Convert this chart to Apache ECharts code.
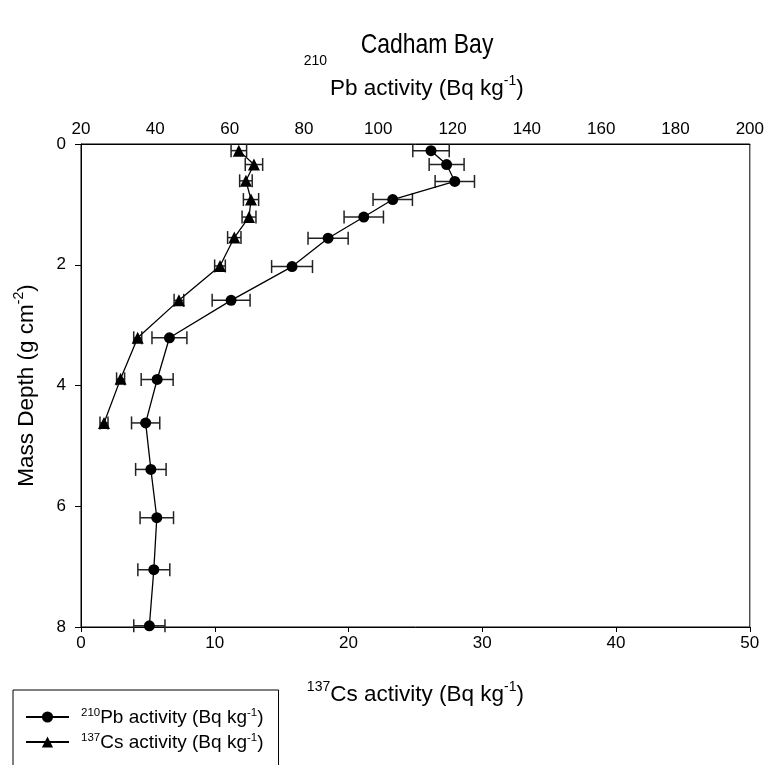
<!DOCTYPE html>
<html>
<head>
<meta charset="utf-8">
<script src="https://cdn.jsdelivr.net/npm/echarts@6/dist/echarts.min.js"></script>
<style>
html,body{margin:0;padding:0;background:#fff;}
#c{width:767px;height:765px;}
</style>
</head>
<body>
<div id="c"></div>
<script>
// Mass depth (g cm-2) of each sample
const pbDepth = [0.11,0.34,0.62,0.92,1.21,1.56,2.03,2.59,3.21,3.90,4.62,5.39,6.19,7.05,7.98];
// 210Pb activity (Bq kg-1) and its error
const pbValues = [114.2,118.4,120.6,103.9,96.1,86.5,76.8,60.4,43.8,40.5,37.4,38.8,40.4,39.6,38.4];
const pbErr    = [4.9,4.7,5.3,5.3,5.3,5.4,5.5,5.1,4.7,4.3,3.8,4.1,4.5,4.3,4.2];
// 137Cs activity (Bq kg-1) and its error
const csDepth  = [0.11,0.34,0.61,0.92,1.21,1.55,2.02,2.59,3.21,3.89,4.62];
const csValues = [11.8,12.93,12.33,12.71,12.56,11.46,10.39,7.32,4.24,2.96,1.72];
const csErr    = [0.58,0.65,0.47,0.57,0.52,0.50,0.40,0.36,0.30,0.30,0.30];
// Axis ticks
const csTicks = {min:0, max:50, interval:10};
const pbTicks = {min:20, max:200, interval:20};
const depthTicks = {min:0, max:8, interval:2};
const chartTitle = 'Cadham Bay';

const FONT = '"Liberation Sans", Arial, sans-serif';
const pbData = pbValues.map((v,i)=>[v, pbDepth[i], pbErr[i]]);
const csData = csValues.map((v,i)=>[v, csDepth[i], csErr[i]]);

function errRender(params, api){
  const x = api.value(0), y = api.value(1), e = api.value(2);
  const p1 = api.coord([x - e, y]);
  const p2 = api.coord([x + e, y]);
  const cap = 6.5;
  const st = {stroke:'#222', lineWidth:1.5};
  return {type:'group', children:[
    {type:'line', shape:{x1:p1[0], y1:p1[1], x2:p2[0], y2:p2[1]}, style:st},
    {type:'line', shape:{x1:p1[0], y1:p1[1]-cap, x2:p1[0], y2:p1[1]+cap}, style:st},
    {type:'line', shape:{x1:p2[0], y1:p2[1]-cap, x2:p2[0], y2:p2[1]+cap}, style:st}
  ]};
}

const TF = 22.5; // axis title size
const TS = 14;   // superscript size
const chart = echarts.init(document.getElementById('c'), null, {renderer:'canvas'});
const axisLine = {show:true, onZero:false, lineStyle:{color:'#000', width:1}};
chart.setOption({
  backgroundColor:'#fff',
  animation:false,
  graphic:[{
    type:'text', x:427, y:45, scaleX:0.82, silent:true,
    style:{text:chartTitle, fontFamily:FONT, fontSize:28, fill:'#000', textAlign:'center', textVerticalAlign:'middle'}
  }],
  grid:{left:81, right:17, top:144, bottom:138, show:true, borderColor:'#000', borderWidth:1, backgroundColor:'transparent'},
  legend:{
    orient:'vertical', left:13, top:690, height:100,
    padding:[17, 15, 30, 12],
    itemGap:5, itemWidth:43, itemHeight:14,
    borderColor:'#000', borderWidth:1,
    data:['210Pb','137Cs'],
    formatter:function(name){
      return name==='210Pb'
        ? '{s|210}{m|Pb activity (Bq kg}{s|-1}{m|)}'
        : '{s|137}{m|Cs activity (Bq kg}{s|-1}{m|)}';
    },
    textStyle:{
      fontFamily:FONT, color:'#000', padding:[0,0,0,7],
      rich:{
        m:{fontFamily:FONT, fontSize:19, color:'#000', lineHeight:20, verticalAlign:'bottom'},
        s:{fontFamily:FONT, fontSize:11.5, color:'#000', lineHeight:20, verticalAlign:'top'}
      }
    }
  },
  xAxis:[
    {
      type:'value', position:'bottom', min:csTicks.min, max:csTicks.max, interval:csTicks.interval,
      axisLine:axisLine, splitLine:{show:false},
      axisTick:{show:true, length:5, lineStyle:{color:'#000'}},
      axisLabel:{fontFamily:FONT, fontSize:17, color:'#000', margin:8},
      name:'{s|137}{m|Cs activity (Bq kg}{s|-1}{m|)}',
      nameLocation:'middle', nameGap:53,
      nameTextStyle:{
        rich:{
          m:{fontFamily:FONT, fontSize:TF, color:'#000', lineHeight:26, verticalAlign:'bottom'},
          s:{fontFamily:FONT, fontSize:TS, color:'#000', lineHeight:26, verticalAlign:'top'}
        }
      }
    },
    {
      type:'value', position:'top', min:pbTicks.min, max:pbTicks.max, interval:pbTicks.interval,
      axisLine:axisLine, splitLine:{show:false},
      axisTick:{show:false, length:0},
      axisLabel:{fontFamily:FONT, fontSize:17, color:'#000', margin:6},
      name:'{p|210}\n{m0|Pb activity (Bq kg}{s|-1}{m|)}',
      nameLocation:'middle', nameGap:44,
      nameTextStyle:{
        rich:{
          p:{fontFamily:FONT, fontSize:TS, color:'#000', lineHeight:26, padding:[0,200,0,0]},
          m0:{fontFamily:FONT, fontSize:TF, color:'#000', lineHeight:26, verticalAlign:'bottom', padding:[0,0,0,23]},
          m:{fontFamily:FONT, fontSize:TF, color:'#000', lineHeight:26, verticalAlign:'bottom'},
          s:{fontFamily:FONT, fontSize:TS, color:'#000', lineHeight:26, verticalAlign:'top'}
        }
      }
    }
  ],
  yAxis:{
    type:'value', inverse:true, min:depthTicks.min, max:depthTicks.max, interval:depthTicks.interval,
    axisLine:axisLine, splitLine:{show:false},
    axisTick:{show:true, length:6, lineStyle:{color:'#000'}},
    axisLabel:{fontFamily:FONT, fontSize:17, color:'#000', margin:15},
    name:'{m|Mass Depth (g cm}{s|-2}{m|)}',
    nameLocation:'middle', nameGap:43, nameRotate:90,
    nameTextStyle:{
      rich:{
        m:{fontFamily:FONT, fontSize:TF, color:'#000', lineHeight:26, verticalAlign:'bottom'},
        s:{fontFamily:FONT, fontSize:TS, color:'#000', lineHeight:26, verticalAlign:'top'}
      }
    }
  },
  series:[
    {
      type:'custom', name:'pbErr', xAxisIndex:1, yAxisIndex:0,
      renderItem:errRender, data:pbData, z:2, silent:true,
      encode:{x:0, y:1}
    },
    {
      type:'custom', name:'csErr', xAxisIndex:0, yAxisIndex:0,
      renderItem:errRender, data:csData, z:2, silent:true,
      encode:{x:0, y:1}
    },
    {
      type:'line', name:'210Pb', xAxisIndex:1, yAxisIndex:0,
      data:pbData.map(d=>[d[0], d[1]]),
      symbol:'circle', symbolSize:11, showSymbol:true,
      lineStyle:{color:'#000', width:1.3},
      itemStyle:{color:'#000'}, z:3
    },
    {
      type:'line', name:'137Cs', xAxisIndex:0, yAxisIndex:0,
      data:csData.map(d=>[d[0], d[1]]),
      symbol:'triangle', symbolSize:12, showSymbol:true,
      lineStyle:{color:'#000', width:1.3},
      itemStyle:{color:'#000'}, z:3
    }
  ]
});
</script>
</body>
</html>
